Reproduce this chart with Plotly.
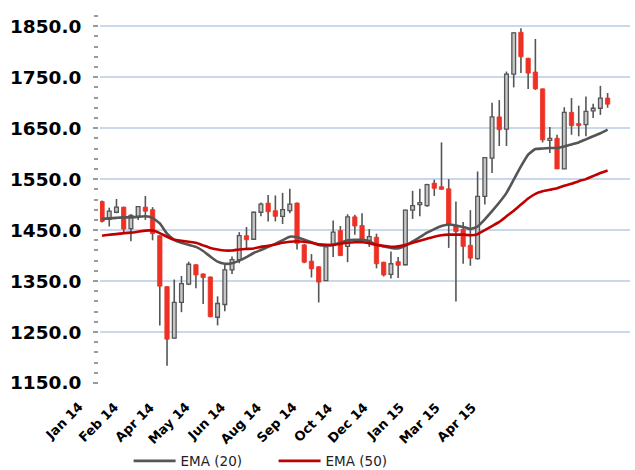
import plotly.graph_objects as go

# ---------------- data ----------------
tick_labels = ["Jan 14", "Feb 14", "Apr 14", "May 14", "Jun 14", "Aug 14",
               "Sep 14", "Oct 14", "Dec 14", "Jan 15", "Mar 15", "Apr 15"]

open_prices = [1506, 1471, 1485, 1495, 1453, 1477, 1495, 1490, 1439, 1339,
               1238, 1308, 1344, 1382, 1364, 1358, 1279, 1304, 1372, 1392,
               1439, 1432, 1485, 1503, 1488, 1477, 1488, 1503, 1421, 1389,
               1378, 1351, 1420, 1449, 1418, 1476, 1459, 1430, 1436, 1387,
               1363, 1388, 1382, 1489, 1500, 1498, 1542, 1535, 1531, 1458,
               1451, 1420, 1394, 1516, 1591, 1672, 1648, 1756, 1838, 1787,
               1760, 1727, 1626, 1630, 1570, 1681, 1659, 1657, 1684, 1689,
               1709]
high_prices = [1508, 1494, 1511, 1496, 1481, 1497, 1517, 1495, 1441, 1340,
               1353, 1360, 1388, 1383, 1365, 1359, 1320, 1383, 1398, 1446,
               1456, 1486, 1504, 1519, 1518, 1523, 1531, 1504, 1423, 1403,
               1379, 1418, 1469, 1458, 1481, 1480, 1483, 1452, 1443, 1388,
               1408, 1397, 1490, 1527, 1531, 1541, 1549, 1622, 1550, 1506,
               1466, 1489, 1565, 1593, 1700, 1705, 1761, 1838, 1846, 1788,
               1825, 1728, 1652, 1637, 1691, 1709, 1694, 1712, 1698, 1733,
               1719]
low_prices = [1465, 1457, 1483, 1445, 1428, 1470, 1470, 1430, 1263, 1184,
              1237, 1289, 1342, 1336, 1305, 1279, 1263, 1291, 1364, 1385,
              1413, 1431, 1477, 1467, 1467, 1462, 1483, 1412, 1385, 1357,
              1308, 1350, 1397, 1399, 1387, 1441, 1430, 1417, 1375, 1359,
              1355, 1356, 1381, 1472, 1477, 1496, 1517, 1529, 1415, 1310,
              1384, 1380, 1392, 1500, 1562, 1615, 1615, 1730, 1758, 1727,
              1725, 1622, 1601, 1570, 1570, 1637, 1634, 1634, 1670, 1676,
              1690]
close_prices = [1467, 1487, 1495, 1452, 1479, 1496, 1487, 1443, 1340, 1236,
                1308, 1345, 1383, 1362, 1357, 1280, 1306, 1372, 1392, 1439,
                1431, 1485, 1501, 1486, 1477, 1490, 1501, 1424, 1387, 1374,
                1348, 1417, 1446, 1400, 1476, 1458, 1431, 1437, 1384, 1362,
                1384, 1381, 1489, 1498, 1504, 1539, 1532, 1530, 1461, 1447,
                1418, 1395, 1516, 1592, 1672, 1647, 1756, 1837, 1790, 1758,
                1727, 1627, 1630, 1570, 1681, 1655, 1655, 1683, 1689, 1709,
                1697]
ema20 = [1472, 1473, 1474, 1475, 1475, 1476, 1477, 1474, 1463, 1443,
         1431, 1425, 1421, 1417, 1409, 1398, 1388, 1384, 1385, 1390,
         1397, 1405, 1411, 1417, 1423, 1430, 1437, 1436, 1431, 1426,
         1421, 1420, 1421, 1425, 1430, 1431, 1431, 1428, 1421, 1418,
         1415, 1414, 1419, 1428, 1436, 1445, 1452, 1458, 1461, 1459,
         1456, 1452, 1457, 1471, 1487, 1504, 1523, 1549, 1575, 1598,
         1609, 1610, 1611, 1611, 1614, 1618, 1622, 1628, 1634, 1640,
         1647]
ema50 = [1439, 1441, 1442, 1444, 1445, 1447, 1449, 1449, 1444, 1437,
         1431, 1429, 1427, 1425, 1420, 1415, 1412, 1410, 1410, 1412,
         1413, 1414, 1417, 1419, 1422, 1425, 1427, 1428, 1427, 1425,
         1422, 1421, 1421, 1423, 1425, 1426, 1426, 1424, 1421, 1419,
         1417, 1418, 1421, 1425, 1429, 1433, 1437, 1440, 1441, 1441,
         1441, 1440, 1442, 1450, 1458, 1466, 1477, 1488, 1500, 1512,
         1521, 1526, 1529, 1532, 1537, 1541, 1546, 1550, 1556, 1562,
         1567]

# ---------------- styling ----------------
WICK = "#555555"
UP_FILL = "#c6c6c6"
UP_LINE = "#555555"
DOWN = "#ee3124"
EMA20_C = "#555555"
EMA50_C = "#c00000"
GRID = "#c9d8ea"
AXIS = "#9a9a9a"
FONT = "DejaVu Sans"

idx = list(range(len(close_prices)))
X_RANGE = [-0.28, 73.1]

# wicks
wx, wy = [], []
for i, lo, hi in zip(idx, low_prices, high_prices):
    wx += [i, i, None]
    wy += [lo, hi, None]

up_x, up_base, up_h = [], [], []
dn_x, dn_base, dn_h = [], [], []
for i, o, c in zip(idx, open_prices, close_prices):
    if c >= o:
        up_x.append(i); up_base.append(o); up_h.append(c - o)
    else:
        dn_x.append(i); dn_base.append(c); dn_h.append(o - c)

fig = go.Figure()
fig.add_trace(go.Scatter(x=wx, y=wy, mode="lines", line=dict(color=WICK, width=1.6),
                         showlegend=False, hoverinfo="skip", zorder=0))
fig.add_trace(go.Bar(x=up_x, y=up_h, base=up_base, width=0.52,
                     marker=dict(color=UP_FILL, line=dict(color=UP_LINE, width=1.3)),
                     showlegend=False, zorder=1))
fig.add_trace(go.Bar(x=dn_x, y=dn_h, base=dn_base, width=0.6,
                     marker=dict(color=DOWN, line=dict(color=DOWN, width=0.8)),
                     showlegend=False, zorder=1))
fig.add_trace(go.Scatter(x=idx, y=ema20, mode="lines", name="EMA (20)",
                         line=dict(color=EMA20_C, width=2.6, shape="spline", smoothing=0.4),
                         zorder=2))
fig.add_trace(go.Scatter(x=idx, y=ema50, mode="lines", name="EMA (50)",
                         line=dict(color=EMA50_C, width=2.6, shape="spline", smoothing=0.4),
                         zorder=2))

# x-axis labels (rotated), placed as in the reference (paper coords so the
# first one, left of the plot area, is still drawn)
span = X_RANGE[1] - X_RANGE[0]
label_pos = [(-1.95 + 4.952 * k - X_RANGE[0]) / span for k in range(len(tick_labels))]
annotations = [
    dict(x=p, y=0, xref="paper", yref="paper", text=t, showarrow=False,
         textangle=-45, xanchor="right", yanchor="top", yshift=-14,
         font=dict(family=FONT, size=13, weight="bold", color="black"))
    for p, t in zip(label_pos, tick_labels)
]

fig.update_layout(
    width=635, height=470,
    margin=dict(l=100, r=5, t=16, b=87, autoexpand=False),
    paper_bgcolor="white", plot_bgcolor="white",
    barmode="overlay",
    font=dict(family=FONT, color="black"),
    xaxis=dict(range=X_RANGE, showgrid=False, zeroline=False,
               showline=True, linecolor=AXIS, linewidth=2,
               showticklabels=False, ticks="", automargin=False),
    yaxis=dict(range=[1150, 1870], dtick=100, tick0=1150, tickformat=".1f",
               showgrid=True, gridcolor=GRID, gridwidth=1.6, zeroline=False,
               showline=True, linecolor=AXIS, linewidth=2, automargin=False,
               ticks="outside", ticklen=5, tickcolor=AXIS, tickwidth=1.5,
               ticklabelstandoff=8,
               minor=dict(dtick=20, tick0=1150, ticks="outside", ticklen=4,
                          tickcolor=AXIS, tickwidth=1.5, showgrid=False),
               tickfont=dict(family=FONT, size=18.5, weight="bold", color="black")),
    annotations=annotations,
    legend=dict(orientation="h", xref="container", yref="container",
                x=0.2025, y=0.052, xanchor="left", yanchor="top",
                font=dict(family=FONT, size=13.5, color="#222222"),
                itemwidth=42, entrywidth=88, entrywidthmode="pixels",
                bgcolor="rgba(0,0,0,0)"),
    showlegend=True,
)

fig.write_html("out.html",
               config={"displayModeBar": False},
               post_script="document.body.style.margin='0px';document.body.style.overflow='hidden';")
